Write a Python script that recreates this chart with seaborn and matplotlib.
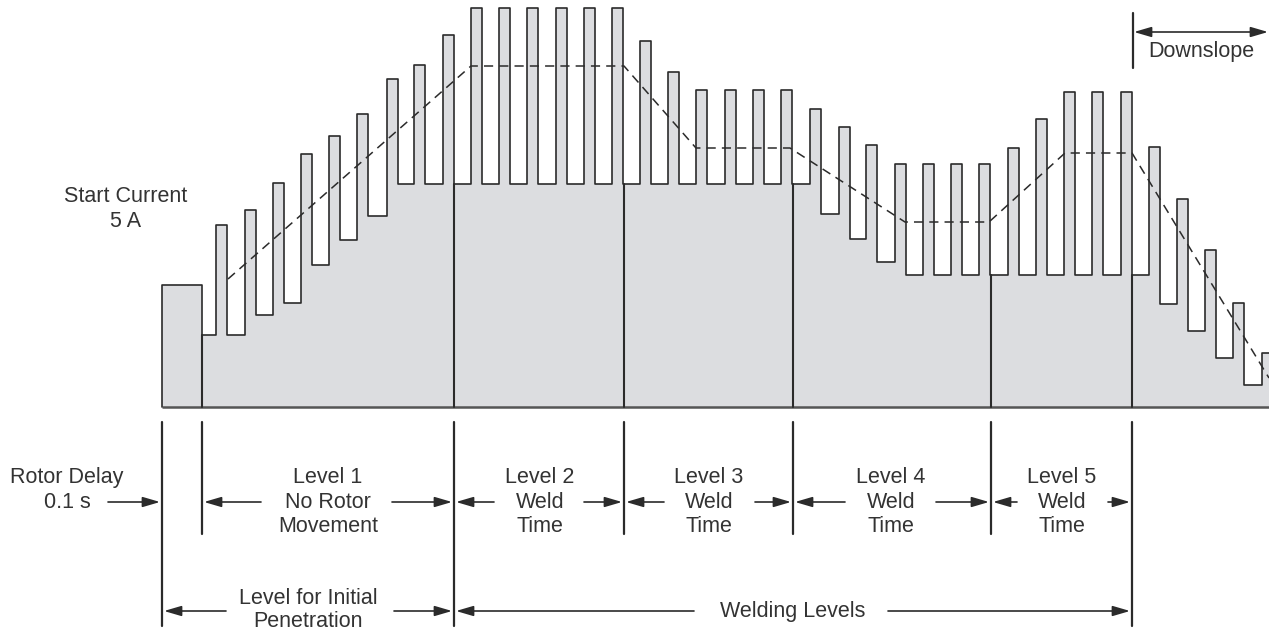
import numpy as np
import pandas as pd
import matplotlib.pyplot as plt
import seaborn as sns

# === DATA (time and current in drawing units, current 0 = base line) ===
rotor_span = [162, 202]
rotor_current = 122

level_edges = [202, 454, 624, 793, 991, 1132]
pulse_width = 11

level1_starts = [216, 245, 273, 301, 329, 357, 387, 414, 443]
level1_low = [72, 72, 92, 104, 142, 167, 191, 223, 223]
level1_high = [182, 197, 224, 253, 271, 293, 328, 342, 372]

level2_starts = [471, 499, 527, 556, 584, 612]
level2_low = [223, 223, 223, 223, 223, 223]
level2_high = [399, 399, 399, 399, 399, 399]

level3_starts = [640, 668, 696, 725, 753, 781]
level3_low = [223, 223, 223, 223, 223, 223]
level3_high = [366, 335, 317, 317, 317, 317]

level4_starts = [810, 839, 866, 895, 923, 951, 979]
level4_low = [223, 193, 168, 145, 132, 132, 132]
level4_high = [298, 280, 262, 243, 243, 243, 243]

level5_starts = [1008, 1036, 1064, 1092, 1121]
level5_low = [132, 132, 132, 132, 132]
level5_high = [259, 288, 315, 315, 315]

down_starts = [1149, 1177, 1205, 1233, 1262]
down_low = [132, 103, 76, 49, 22]
down_high = [260, 208, 157, 104, 54]

program_t = [228, 471, 624, 696, 790, 905, 989, 1065, 1132, 1269]
program_i = [128, 341, 341, 259, 259, 185, 185, 254, 254, 29]

# === Build step waveform ===
starts = level1_starts + level2_starts + level3_starts + level4_starts + level5_starts + down_starts
lows = level1_low + level2_low + level3_low + level4_low + level5_low + down_low
highs = level1_high + level2_high + level3_high + level4_high + level5_high + down_high

wx = [rotor_span[0], rotor_span[0], rotor_span[1], rotor_span[1]]
wy = [0, rotor_current, rotor_current, lows[0]]
for k, s in enumerate(starts):
    nxt = lows[k + 1] if k + 1 < len(starts) else 0
    wx += [s, s, s + pulse_width, s + pulse_width]
    wy += [lows[k], highs[k], highs[k], nxt]
wave = pd.DataFrame({"t": wx, "i": wy})
prog = pd.DataFrame({"t": program_t, "i": program_i})

# === Plot ===
sns.set_theme(style="white")
plt.rcParams["font.family"] = ["Liberation Sans", "DejaVu Sans"]

INK = "#2b2b2b"
TXT = "#333333"
FILL = "#dcdde0"
FS = 15.5

fig = plt.figure(figsize=(12.69, 6.32), dpi=100)
ax = fig.add_axes([0, 0, 1, 1])

ax.fill_between(wave["t"], 0, wave["i"], color=FILL, lw=0, zorder=1)
sns.lineplot(data=wave, x="t", y="i", sort=False, estimator=None, color=INK, lw=1.2, ax=ax, zorder=3)
sns.lineplot(data=prog, x="t", y="i", sort=False, estimator=None, color=INK, lw=1.1,
             linestyle=(0, (6, 4)), ax=ax, zorder=4)

# base line and level boundaries inside the fill
ax.plot([rotor_span[0], 1269], [0, 0], color="#555555", lw=1.8, zorder=2, solid_capstyle="butt")
first_lows = [level1_low[0], level2_low[0], level3_low[0], level4_low[0], level5_low[0], down_low[0]]
for e, lo in zip(level_edges, first_lows):
    ax.plot([e, e], [0, lo], color=INK, lw=1.5, zorder=3)

# === Annotations below the chart ===
for x in [162, 454, 1132]:
    ax.plot([x, x], [-15, -219], color=INK, lw=1.6)
for x in [202, 624, 793, 991]:
    ax.plot([x, x], [-15, -127], color=INK, lw=1.6)


def arrow(tail, tip, y, style="-|>"):
    ax.annotate("", xy=(tip, y), xytext=(tail, y),
                arrowprops=dict(arrowstyle=f"{style},head_length=0.75,head_width=0.22",
                                color=INK, lw=1.2, shrinkA=0, shrinkB=0, mutation_scale=14))


row = -95
low_row = -204
labels = [
    (67, -83, "Rotor Delay\n0.1 s", 1.2),
    (328, row, "Level 1\nNo Rotor\nMovement", 1.2),
    (540, row, "Level 2\nWeld\nTime", 1.2),
    (709, row, "Level 3\nWeld\nTime", 1.2),
    (891, row, "Level 4\nWeld\nTime", 1.2),
    (1062, row, "Level 5\nWeld\nTime", 1.2),
    (308, -203, "Level for Initial\nPenetration", 1.1),
    (793, low_row, "Welding Levels", 1.2),
    (126, 198, "Start Current\n5 A", 1.2),
    (1201, 355, "Downslope", 1.2),
]
for x, y, s, ls in labels:
    ax.text(x, y, s, ha="center", va="center", fontsize=FS, color=TXT, linespacing=ls, multialignment="center")

for tail, tip in [(108, 160), (261, 204), (392, 452), (494, 456), (584, 622),
                  (664, 626), (755, 791), (845, 795), (936, 989), (1017, 993), (1108, 1130)]:
    arrow(tail, tip, row)
for tail, tip in [(226, 164), (394, 452), (694, 456), (888, 1130)]:
    arrow(tail, tip, low_row)

# downslope marker
ax.plot([1133, 1133], [394, 339], color=INK, lw=1.6)
arrow(1134, 1268, 375, style="<|-|>")

ax.set_xlim(0, 1269)
ax.set_ylim(-225, 407)
ax.axis("off")

fig.savefig("out.png", dpi=100)
